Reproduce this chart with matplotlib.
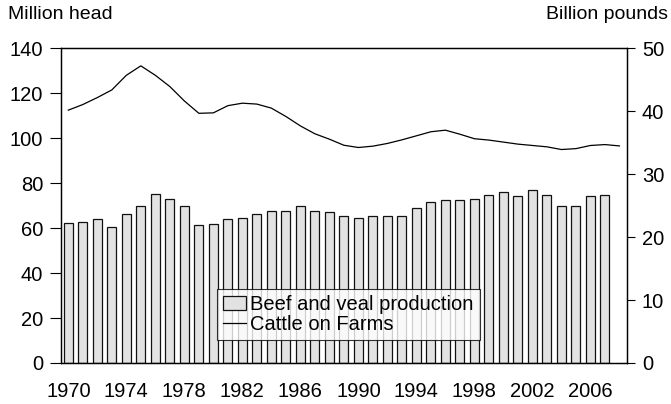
import matplotlib
matplotlib.use("Agg")
import matplotlib.pyplot as plt

plt.rcParams['font.family'] = ['Liberation Sans', 'DejaVu Sans']

# beef and veal production, billion pounds (right axis)
bar_years = list(range(1970, 2008))
beef_veal = [22.3, 22.4, 22.8, 21.6, 23.7, 24.9, 26.8, 26.1, 24.9, 21.9,
             22.0, 22.8, 23.0, 23.7, 24.1, 24.2, 24.9, 24.1, 23.9, 23.4,
             23.1, 23.3, 23.4, 23.4, 24.6, 25.6, 25.9, 25.9, 26.0, 26.7,
             27.1, 26.5, 27.4, 26.6, 24.9, 24.9, 26.5, 26.7]

# cattle on farms, million head (left axis)
line_years = list(range(1970, 2009))
cattle = [112.4, 114.9, 118.0, 121.4, 127.9, 132.1, 127.9, 122.9, 116.5, 111.0,
          111.2, 114.4, 115.5, 115.1, 113.3, 109.6, 105.4, 101.9, 99.5, 96.8,
          95.8, 96.4, 97.6, 99.2, 101.0, 102.8, 103.5, 101.7, 99.7, 99.1,
          98.2, 97.3, 96.7, 96.1, 94.9, 95.3, 96.7, 97.1, 96.5]

xtick_years = list(range(1970, 2007, 4))

fig = plt.figure(figsize=(6.71, 4.04), dpi=100)
ax = fig.add_axes([0.091, 0.1015, 0.843, 0.7795])
ax2 = ax.twinx()

bars = ax2.bar(bar_years, beef_veal, width=0.62, color='#e2e2e2',
               edgecolor='#111111', linewidth=0.9, zorder=2,
               label='Beef and veal production')
line, = ax.plot(line_years, cattle, color='black', linewidth=0.9,
                label='Cattle on Farms', zorder=3)

ax.set_zorder(ax2.get_zorder() + 1)
ax.patch.set_visible(False)

ax.set_xlim(1969.5, 2008.5)
ax.set_ylim(0, 140)
ax2.set_ylim(0, 50)
ax.set_yticks(range(0, 141, 20))
ax2.set_yticks(range(0, 51, 10))
ax.set_xticks(xtick_years)
ax.set_xticklabels([str(y) for y in xtick_years])

ax.tick_params(axis='x', length=0, labelsize=14.5, pad=14)
ax.tick_params(axis='y', direction='out', length=8, labelsize=14.5, width=0.8, pad=5)
ax2.tick_params(axis='y', direction='out', length=6, labelsize=14.5, width=0.8, pad=5)
for a in (ax, ax2):
    for s in a.spines.values():
        s.set_linewidth(0.9)

fig.text(0.012, 0.965, 'Million head', fontsize=14, ha='left', va='center')
fig.text(0.995, 0.965, 'Billion pounds', fontsize=14, ha='right', va='center')

leg = ax.legend([bars, line], ['Beef and veal production', 'Cattle on Farms'],
                loc='lower left', bbox_to_anchor=(0.2756, 0.073),
                fontsize=14.5, frameon=True, fancybox=False, borderpad=0.3,
                handlelength=1.15, handletextpad=0.2, labelspacing=0.05,
                borderaxespad=0)
leg.get_frame().set_edgecolor('black')
leg.get_frame().set_linewidth(0.8)

fig.savefig('out.png', dpi=100)
